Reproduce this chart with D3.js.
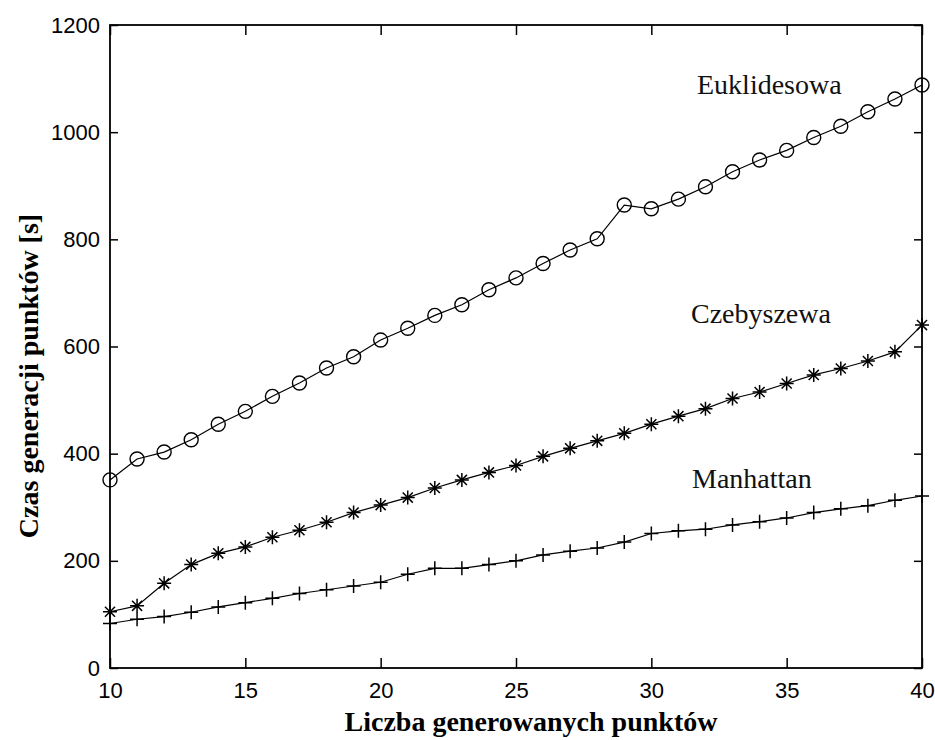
<!DOCTYPE html>
<html>
<head>
<meta charset="utf-8">
<script src="https://cdn.jsdelivr.net/npm/d3@7"></script>
<style>
  body { margin: 0; background: #fff; }
  svg { display: block; }
</style>
</head>
<body>
<div id="chart"></div>
<script>
// Liczba generowanych punktów (oś X)
const punkty = [10, 11, 12, 13, 14, 15, 16, 17, 18, 19, 20, 21, 22, 23, 24, 25,
                26, 27, 28, 29, 30, 31, 32, 33, 34, 35, 36, 37, 38, 39, 40];

// Czas generacji [s] dla każdej metryki
const euklidesowa = [351, 390, 403, 426, 455, 479, 507, 532, 560, 581, 612, 634, 658, 678, 706, 728,
                     755, 780, 801, 864, 857, 875, 898, 926, 948, 966, 990, 1011, 1038, 1062, 1088];
const czebyszewa  = [105, 116, 158, 193, 214, 226, 244, 257, 272, 290, 304, 318, 336, 351, 365, 378,
                     395, 410, 424, 438, 455, 470, 484, 503, 515, 531, 547, 559, 573, 590, 640];
const manhattan   = [83, 91, 96, 104, 114, 122, 130, 139, 146, 153, 160, 175, 186, 186, 193, 200,
                     211, 218, 224, 235, 251, 256, 259, 267, 273, 280, 290, 297, 303, 313, 321];

const xTicks = [10, 15, 20, 25, 30, 35, 40];
const yTicks = [0, 200, 400, 600, 800, 1000, 1200];

const series = [
    { name: "Euklidesowa", values: euklidesowa, marker: "circle",   label: [697, 94] },
    { name: "Czebyszewa",  values: czebyszewa,  marker: "asterisk", label: [691, 323] },
    { name: "Manhattan",   values: manhattan,   marker: "plus",     label: [692, 488] }
];

const W = 935, H = 740;
const margin = { top: 25, right: 13, bottom: 72, left: 110 };
const width = W - margin.left - margin.right,
      height = H - margin.top - margin.bottom;

const svg = d3.select("#chart").append("svg")
    .attr("width", W)
    .attr("height", H);

const g = svg.append("g")
    .attr("transform", `translate(${margin.left},${margin.top})`);

const x = d3.scaleLinear().domain([10, 40]).range([0, width]);
const y = d3.scaleLinear().domain([0, 1200]).range([height, 0]);

const tickFont = "'Liberation Sans', Arial, sans-serif";
const serif = "'Liberation Serif', 'Times New Roman', serif";

// Osie (MATLAB: ticki do środka, na wszystkich bokach)
const styleAxis = sel => {
    sel.select(".domain").remove();
    sel.selectAll("line").attr("stroke", "#000").attr("stroke-width", 1.5);
    sel.selectAll("text").style("font-family", tickFont).style("font-size", "22px").attr("fill", "#000");
};

g.append("g")
    .attr("transform", `translate(0,${height})`)
    .call(d3.axisBottom(x).tickValues(xTicks).tickSize(-10).tickPadding(14).tickFormat(d3.format("d")))
    .call(styleAxis);

g.append("g")
    .call(d3.axisLeft(y).tickValues(yTicks).tickSize(-8).tickPadding(10).tickFormat(d3.format("d")))
    .call(styleAxis);

g.append("g")
    .call(d3.axisTop(x).tickValues(xTicks).tickSize(-10).tickFormat(""))
    .call(styleAxis);

g.append("g")
    .attr("transform", `translate(${width},0)`)
    .call(d3.axisRight(y).tickValues(yTicks).tickSize(-8).tickFormat(""))
    .call(styleAxis);

g.append("rect")
    .attr("width", width)
    .attr("height", height)
    .attr("fill", "none")
    .attr("stroke", "#000")
    .attr("stroke-width", 1.8);

// Linie
const line = d3.line()
    .x((d, i) => x(punkty[i]))
    .y(d => y(d));

series.forEach(s => {
    g.append("path")
        .datum(s.values)
        .attr("d", line)
        .attr("fill", "none")
        .attr("stroke", "#000")
        .attr("stroke-width", 1.2);
});

// Znaczniki
const markerPath = (type, r) => {
    const p = d3.path();
    if (type === "plus" || type === "asterisk") {
        p.moveTo(-r, 0); p.lineTo(r, 0);
        p.moveTo(0, -r); p.lineTo(0, r);
    }
    if (type === "asterisk") {
        const k = r * 0.72;
        p.moveTo(-k, -k); p.lineTo(k, k);
        p.moveTo(-k, k); p.lineTo(k, -k);
    }
    return p.toString();
};

series.forEach(s => {
    const m = g.append("g").selectAll("g")
        .data(s.values)
        .enter()
        .append("g")
        .attr("transform", (d, i) => `translate(${x(punkty[i])},${y(d)})`);

    if (s.marker === "circle") {
        m.append("circle")
            .attr("r", 7)
            .attr("fill", "none")
            .attr("stroke", "#000")
            .attr("stroke-width", 1.4);
    } else {
        m.append("path")
            .attr("d", markerPath(s.marker, 7))
            .attr("fill", "none")
            .attr("stroke", "#000")
            .attr("stroke-width", 1.5);
    }
});

// Podpisy krzywych
series.forEach(s => {
    svg.append("text")
        .attr("x", s.label[0])
        .attr("y", s.label[1])
        .style("font-family", serif)
        .style("font-size", "28px")
        .attr("fill", "#111")
        .text(s.name);
});

// Tytuły osi
svg.append("text")
    .attr("x", 531)
    .attr("y", 731)
    .attr("text-anchor", "middle")
    .style("font-family", serif)
    .style("font-size", "28px")
    .style("font-weight", "bold")
    .text("Liczba generowanych punktów");

svg.append("text")
    .attr("transform", "translate(38,376) rotate(-90)")
    .attr("text-anchor", "middle")
    .style("font-family", serif)
    .style("font-size", "28px")
    .style("font-weight", "bold")
    .text("Czas generacji punktów [s]");
</script>
</body>
</html>
